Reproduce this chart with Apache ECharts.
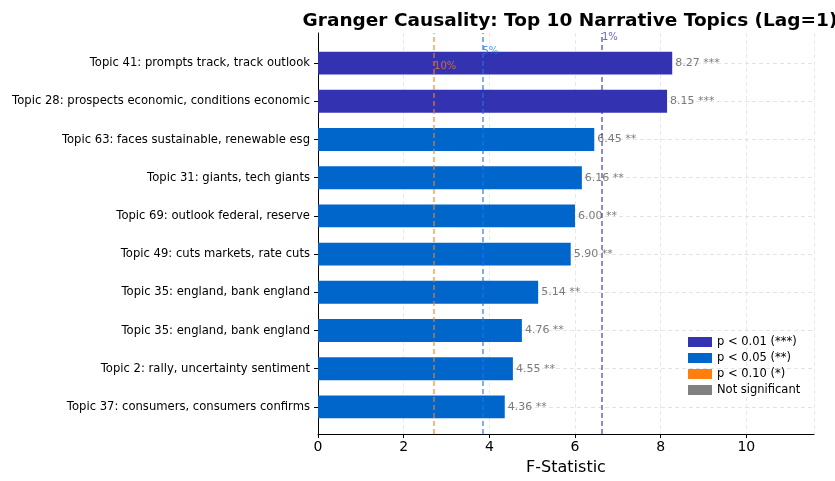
<!DOCTYPE html>
<html>
<head>
<meta charset="utf-8">
<script src="https://cdn.jsdelivr.net/npm/echarts@6/dist/echarts.min.js"></script>
<style>
  html, body { margin: 0; padding: 0; background: #fff; }
  #chart { width: 835px; height: 481px; }
</style>
</head>
<body>
<div id="chart"></div>
<script>
// Topics ordenados de mayor a menor F
var topics = [
  'Topic 41: prompts track, track outlook',
  'Topic 28: prospects economic, conditions economic',
  'Topic 63: faces sustainable, renewable esg',
  'Topic 31: giants, tech giants',
  'Topic 69: outlook federal, reserve',
  'Topic 49: cuts markets, rate cuts',
  'Topic 35: england, bank england',
  'Topic 35: england, bank england',
  'Topic 2: rally, uncertainty sentiment',
  'Topic 37: consumers, consumers confirms'
];
var fStats = [8.27, 8.15, 6.45, 6.16, 6.00, 5.90, 5.14, 4.76, 4.55, 4.36];
var stars = ['***', '***', '**', '**', '**', '**', '**', '**', '**', '**'];

var levelNames = ['p < 0.01 (***)', 'p < 0.05 (**)', 'p < 0.10 (*)', 'Not significant'];
var levelStars = ['***', '**', '*', ''];
var levelColors = ['#3333b2', '#0066cc', '#ff7f0e', '#808080'];

var thresholdNames = ['10%', '5%', '1%'];
var thresholdValues = [2.71, 3.84, 6.63];
var thresholdColors = ['#ff7f0e', '#1a73e0', '#3333b2'];
var thresholdLabelDist = [-33, -18, -4];

var xMax = 11.58;
var font = 'DejaVu Sans';

var myChart = echarts.init(document.getElementById('chart'));

var barSeries = levelNames.map(function (name, k) {
  return {
    name: name,
    type: 'bar',
    xAxisIndex: 0,
    yAxisIndex: 0,
    stack: 'all',
    barWidth: '60%',
    z: 3,
    itemStyle: { color: levelColors[k] },
    label: {
      show: true,
      position: 'right',
      distance: 3,
      color: '#7a7a7a',
      fontFamily: font,
      fontSize: 11,
      formatter: function (p) { return p.value.toFixed(2) + ' ' + stars[p.dataIndex]; }
    },
    data: fStats.map(function (v, i) { return stars[i] === levelStars[k] ? v : '-'; })
  };
});

// líneas horizontales de la rejilla, en el centro de cada barra
barSeries[0].markLine = {
  silent: true,
  symbol: 'none',
  z: 1,
  label: { show: false },
  lineStyle: { color: '#dddddd', type: [4, 3], width: 0.8 },
  data: topics.map(function (t, i) { return { yAxis: i }; })
};

var thresholdSeries = {
  name: 'umbrales',
  type: 'line',
  xAxisIndex: 1,
  yAxisIndex: 1,
  data: [],
  z: 10,
  markLine: {
    silent: true,
    symbol: 'none',
    z: 10,
    data: thresholdValues.map(function (v, i) {
      return {
        xAxis: v,
        lineStyle: { color: thresholdColors[i], type: [5, 3], width: 1.5, opacity: 0.75 },
        label: {
          show: true,
          position: 'end',
          align: 'left',
          verticalAlign: 'middle',
          distance: thresholdLabelDist[i],
          color: thresholdColors[i],
          fontFamily: font,
          fontSize: 10,
          formatter: thresholdNames[i]
        }
      };
    })
  }
};

var option = {
  animation: false,
  textStyle: { fontFamily: font },
  title: {
    text: 'Granger Causality: Top 10 Narrative Topics (Lag=1)',
    left: 565,
    textAlign: 'center',
    top: 7,
    textStyle: { fontFamily: font, fontWeight: 'bold', fontSize: 18.5, color: '#000' }
  },
  legend: {
    orient: 'vertical',
    left: 688,
    top: 336,
    padding: 0,
    itemWidth: 24,
    itemHeight: 10,
    itemGap: 4,
    icon: 'rect',
    data: levelNames,
    textStyle: { fontFamily: font, fontSize: 11.5, color: '#000' }
  },
  grid: [
    { left: 318, right: 21, top: 44, bottom: 55 },
    { left: 318, right: 21, top: 33, bottom: 44 }
  ],
  xAxis: [
    { gridIndex: 0, type: 'value', min: 0, max: xMax, show: false },
    {
      gridIndex: 1, type: 'value', min: 0, max: xMax, interval: 2,
      name: 'F-Statistic', nameLocation: 'middle', nameGap: 26,
      nameTextStyle: { fontFamily: font, fontSize: 16, color: '#000' },
      axisLine: { lineStyle: { color: '#000', width: 1 } },
      axisTick: { show: true, length: 4, lineStyle: { color: '#000' } },
      axisLabel: { fontFamily: font, fontSize: 14, color: '#000', margin: 6, showMaxLabel: false },
      splitLine: { show: true, lineStyle: { color: '#e3e3e3', type: [4, 3], width: 0.8 } }
    }
  ],
  yAxis: [
    {
      gridIndex: 0, type: 'category', inverse: true, data: topics,
      axisLine: { show: false },
      axisTick: { show: true, length: 4, alignWithLabel: true, lineStyle: { color: '#000' } },
      axisLabel: { fontFamily: font, fontSize: 11.6, color: '#000', margin: 8, interval: 0 },
      splitLine: { show: false }
    },
    {
      gridIndex: 1, type: 'value', min: 0, max: 1,
      axisLine: { show: true, onZero: false, lineStyle: { color: '#000', width: 1 } },
      axisTick: { show: false },
      axisLabel: { show: false },
      splitLine: { show: false }
    }
  ],
  series: barSeries.concat([thresholdSeries])
};

myChart.setOption(option);
</script>
</body>
</html>
